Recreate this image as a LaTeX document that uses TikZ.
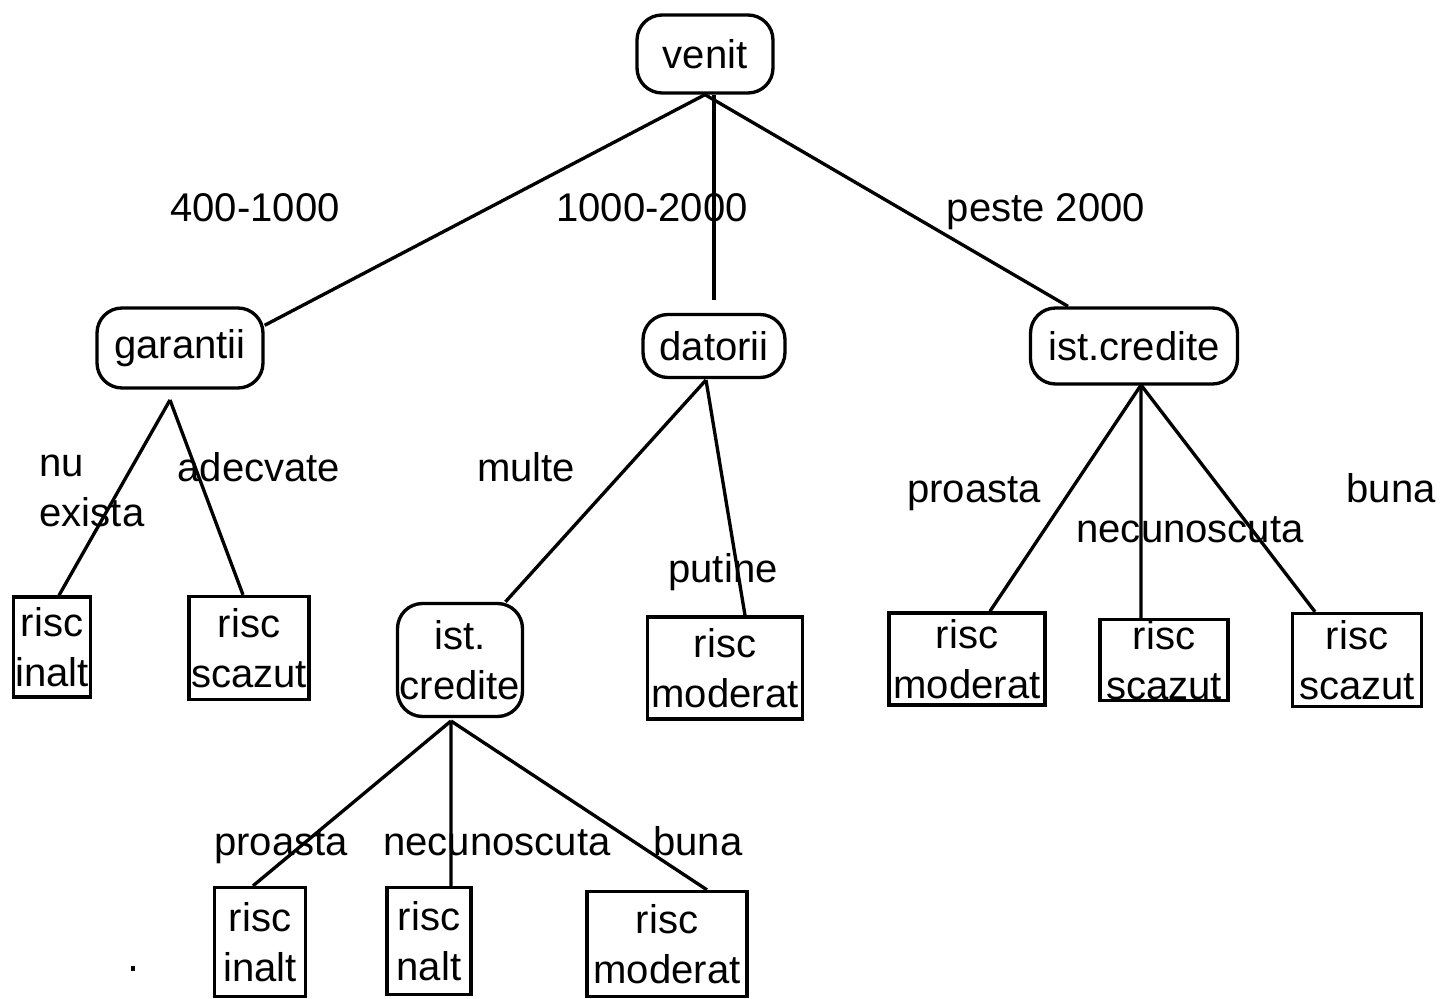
\documentclass[tikz,border=0pt]{standalone}
\usepackage{fontspec}
\setmainfont{Liberation Sans}

\begin{document}
\begin{tikzpicture}[x=0.02cm, y=-0.02cm, line width=1.9pt,
    every node/.style={font=\fontsize{22.8}{28.5}\selectfont, inner sep=0pt},
    attr/.style={draw, rounded corners=0.5cm, align=center},
    leaf/.style={draw, align=center},
    lbl/.style={anchor=base}]
  \useasboundingbox (0,0) rectangle (1440,999);
  % attribute nodes
  \node [attr, minimum width=2.72cm, minimum height=1.56cm](venit) at (705,54){venit};
  \node [attr, minimum width=3.32cm, minimum height=1.6cm](garantii) at (180,348){garantii};
  \node [attr, minimum width=2.84cm, minimum height=1.26cm](datorii) at (714,346){datorii};
  \node [attr, minimum width=4.14cm, minimum height=1.52cm](istcred) at (1134,346){ist.credite};
  \node [attr, minimum width=2.5cm, minimum height=2.26cm](istcredm) at (460,660){ist.\\credite};
  % leaves
  \node [leaf, minimum width=1.54cm, minimum height=2cm](inalt) at (52,647){risc\\inalt};
  \node [leaf, minimum width=2.4cm, minimum height=2.06cm](scazut) at (249,648){risc\\scazut};
  \node [leaf, minimum width=3.1cm, minimum height=2.04cm](moderatm) at (725,668){risc\\moderat};
  \node [leaf, minimum width=3.12cm, minimum height=1.84cm](moderatr) at (967,659){risc\\moderat};
  \node [leaf, minimum width=2.56cm, minimum height=1.62cm](scazutr) at (1164,660){risc\\scazut};
  \node [leaf, minimum width=2.58cm, minimum height=1.86cm](scazutrr) at (1357,660){risc\\scazut};
  \node [leaf, minimum width=1.82cm, minimum height=2.18cm](inaltb) at (260,942){risc\\inalt};
  \node [leaf, minimum width=1.68cm, minimum height=2.14cm](naltb) at (429,941){risc\\nalt};
  \node [leaf, minimum width=3.2cm, minimum height=2.1cm](moderatb) at (667,944){risc\\moderat};
  % forks under the attribute nodes
  \coordinate (gfork) at (170,400);
  \coordinate (dfork) at (706,380);
  \coordinate (rfork) at (1141,385);
  \coordinate (mfork) at (451,721);
  % edges
  \draw (venit.south) -- (garantii.15);
  \draw [shorten >=0.26cm] (datorii.north |- venit.south) -- (datorii.north);
  \draw (venit.south) -- (istcred.149);
  \draw (gfork) -- ([xshift=0.14cm]inalt.north);
  \draw (gfork) -- ([xshift=-0.12cm]scazut.north);
  \draw (dfork) -- (istcredm.52);
  \draw (dfork) -- ([xshift=0.4cm]moderatm.north);
  \draw (rfork) -- ([xshift=0.46cm]moderatr.north);
  \draw (rfork) -- ([xshift=-0.46cm]scazutr.north);
  \draw (rfork) -- ([xshift=-0.84cm]scazutrr.north);
  \draw (mfork) -- ([xshift=-0.14cm]inaltb.north);
  \draw (mfork) -- ([xshift=0.44cm]naltb.north);
  \draw (mfork) -- ([xshift=0.8cm]moderatb.north);
  % branch labels
  \node [lbl](l400) at (255,222){400-1000};
  \node [lbl](l1000) at (652,222){1000-2000};
  \node [lbl](lpeste) at (1046,222){peste 2000};
  \node [anchor=west, align=left](lnu) at (38,491){nu\\exista};
  \node [lbl](ladec) at (259,482){adecvate};
  \node [lbl](lmulte) at (526,482){multe};
  \node [lbl](lputine) at (723,583){putine};
  \node [lbl](lproastar) at (974,503){proasta};
  \node [lbl](lnecr) at (1190,543){necunoscuta};
  \node [lbl](lbunar) at (1391,503){buna};
  \node [lbl](lproastab) at (281,855){proasta};
  \node [lbl](lnecb) at (497,855){necunoscuta};
  \node [lbl](lbunab) at (698,855){buna};
  \fill (131,966) rectangle (135,971);
\end{tikzpicture}
\end{document}
